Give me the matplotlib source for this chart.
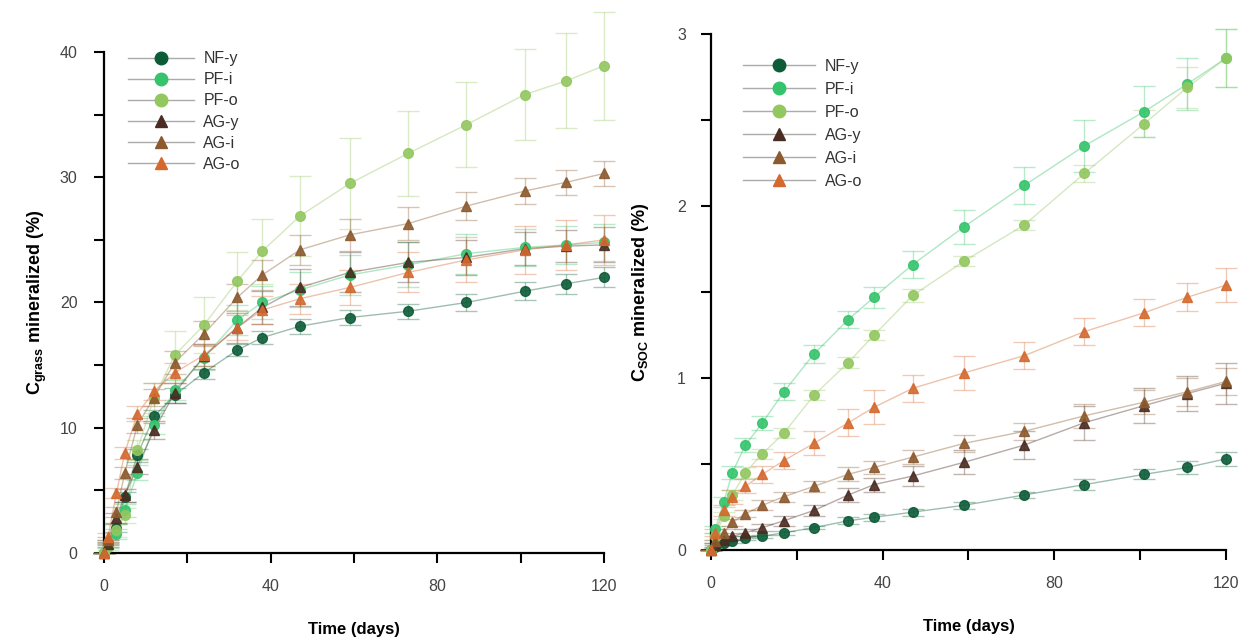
import matplotlib.pyplot as plt
from matplotlib.lines import Line2D

plt.rcParams['font.family'] = ['Liberation Sans', 'DejaVu Sans']
plt.rcParams['mathtext.fontset'] = 'custom'
plt.rcParams['mathtext.bf'] = 'Liberation Sans:bold'
plt.rcParams['mathtext.rm'] = 'Liberation Sans:bold'

dias = [0, 1, 3, 5, 8, 12, 17, 24, 32, 38, 47, 59, 73, 87, 101, 111, 120]
nomes = ['NF-y', 'PF-i', 'PF-o', 'AG-y', 'AG-i', 'AG-o']
cores = ['#0d5c38', '#35c46c', '#93c760', '#4b2c22', '#8c5a2e', '#d4692f']
marcas = ['o', 'o', 'o', '^', '^', '^']

# C grass mineralizado (%)
grass = {
    'NF-y': [0, 0.8, 2.0, 4.5, 7.8, 10.9, 12.6, 14.4, 16.2, 17.2, 18.1, 18.8, 19.3, 20.0, 20.9, 21.5, 22.0],
    'PF-i': [0, 0.6, 1.5, 3.4, 6.4, 10.2, 13.0, 15.6, 18.6, 20.0, 21.0, 22.2, 23.0, 23.9, 24.4, 24.6, 24.8],
    'PF-o': [0, 0.5, 1.8, 3.0, 8.2, 12.4, 15.8, 18.2, 21.7, 24.1, 26.9, 29.5, 31.9, 34.2, 36.6, 37.7, 38.9],
    'AG-y': [0, 0.7, 2.8, 4.6, 6.9, 9.8, 12.8, 15.7, 18.0, 19.6, 21.2, 22.4, 23.2, 23.6, 24.3, 24.5, 24.6],
    'AG-i': [0, 1.0, 3.3, 6.4, 10.2, 12.4, 15.2, 17.5, 20.4, 22.2, 24.2, 25.4, 26.3, 27.7, 28.9, 29.6, 30.3],
    'AG-o': [0, 1.3, 4.8, 8.0, 11.1, 12.9, 14.4, 15.8, 18.0, 19.4, 20.3, 21.2, 22.4, 23.4, 24.2, 24.6, 25.0],
}
grass_err = {
    'NF-y': [0, 0.2, 0.3, 0.4, 0.5, 0.5, 0.6, 0.5, 0.5, 0.5, 0.6, 0.6, 0.6, 0.7, 0.7, 0.8, 0.8],
    'PF-i': [0, 0.2, 0.4, 0.5, 0.6, 0.7, 0.8, 1.0, 1.2, 1.3, 1.4, 1.6, 1.8, 1.6, 1.5, 1.5, 1.5],
    'PF-o': [0, 0.3, 0.5, 0.6, 0.8, 1.2, 1.9, 2.2, 2.3, 2.6, 3.2, 3.6, 3.4, 3.4, 3.6, 3.8, 4.3],
    'AG-y': [0, 0.2, 0.4, 0.5, 0.6, 0.7, 0.8, 1.0, 1.2, 1.3, 1.5, 1.6, 1.6, 1.4, 1.3, 1.3, 1.4],
    'AG-i': [0, 0.3, 0.4, 0.5, 0.6, 0.7, 0.9, 1.0, 1.1, 1.2, 1.2, 1.3, 1.3, 1.1, 1.0, 1.0, 1.0],
    'AG-o': [0, 0.3, 0.4, 0.5, 0.6, 0.7, 0.8, 0.9, 1.0, 1.1, 1.2, 1.4, 1.6, 1.8, 1.9, 2.0, 2.0],
}

# C SOC mineralizado (%)
soc = {
    'NF-y': [0, 0.02, 0.04, 0.05, 0.07, 0.08, 0.10, 0.13, 0.17, 0.19, 0.22, 0.26, 0.32, 0.38, 0.44, 0.48, 0.53],
    'PF-i': [0, 0.12, 0.28, 0.45, 0.61, 0.74, 0.92, 1.14, 1.34, 1.47, 1.66, 1.88, 2.12, 2.35, 2.55, 2.71, 2.86],
    'PF-o': [0, 0.08, 0.20, 0.32, 0.45, 0.56, 0.68, 0.90, 1.09, 1.25, 1.48, 1.68, 1.89, 2.19, 2.48, 2.69, 2.86],
    'AG-y': [0, 0.03, 0.06, 0.08, 0.10, 0.13, 0.17, 0.23, 0.32, 0.38, 0.43, 0.51, 0.61, 0.74, 0.84, 0.91, 0.97],
    'AG-i': [0, 0.05, 0.10, 0.16, 0.21, 0.26, 0.31, 0.37, 0.44, 0.48, 0.54, 0.62, 0.69, 0.78, 0.86, 0.92, 0.98],
    'AG-o': [0, 0.10, 0.23, 0.31, 0.37, 0.44, 0.52, 0.62, 0.74, 0.83, 0.94, 1.03, 1.13, 1.27, 1.38, 1.47, 1.54],
}
soc_err = {
    'NF-y': [0, 0.01, 0.01, 0.01, 0.01, 0.01, 0.01, 0.01, 0.02, 0.02, 0.02, 0.02, 0.02, 0.03, 0.03, 0.04, 0.04],
    'PF-i': [0, 0.02, 0.03, 0.04, 0.04, 0.04, 0.05, 0.05, 0.05, 0.06, 0.08, 0.10, 0.11, 0.15, 0.15, 0.15, 0.17],
    'PF-o': [0, 0.02, 0.02, 0.03, 0.03, 0.03, 0.03, 0.03, 0.03, 0.03, 0.04, 0.03, 0.03, 0.05, 0.08, 0.12, 0.17],
    'AG-y': [0, 0.01, 0.02, 0.02, 0.02, 0.02, 0.03, 0.03, 0.04, 0.04, 0.06, 0.07, 0.08, 0.10, 0.10, 0.10, 0.12],
    'AG-i': [0, 0.01, 0.02, 0.02, 0.02, 0.03, 0.03, 0.03, 0.04, 0.04, 0.04, 0.05, 0.05, 0.07, 0.07, 0.08, 0.08],
    'AG-o': [0, 0.02, 0.03, 0.04, 0.04, 0.05, 0.05, 0.07, 0.08, 0.10, 0.08, 0.10, 0.08, 0.08, 0.08, 0.08, 0.10],
}


def painel(ax, dados, erros, ymax, yticks, ylabels, yminor, ylabel, ypad, ylabelpad,
           leg_anchor, leg_spacing, hlen):
    for nome, cor, m in zip(nomes, cores, marcas):
        ax.errorbar(dias, dados[nome], yerr=erros[nome], fmt='none', ecolor=cor,
                    alpha=0.35, elinewidth=1, capsize=8, capthick=1, clip_on=False, zorder=2)
        ax.plot(dias, dados[nome], color=cor, alpha=0.4, lw=1, zorder=3, clip_on=False)
        ax.plot(dias, dados[nome], ls='none', marker=m, color=cor, ms=7, alpha=0.9,
                zorder=4, clip_on=False)

    ax.set_xlim(0, 120)
    ax.set_ylim(0, ymax)
    ax.set_xticks([0, 40, 80, 120])
    ax.set_xticks([20, 60, 100], minor=True)
    ax.set_yticks(yticks)
    ax.set_yticklabels(ylabels)
    ax.set_yticks(yminor, minor=True)
    ax.spines['top'].set_visible(False)
    ax.spines['right'].set_visible(False)
    for s in ['left', 'bottom']:
        ax.spines[s].set_linewidth(1.6)
    ax.tick_params(which='both', direction='out', length=7, width=1.5,
                   labelsize=11.5, labelcolor='#444444')
    ax.tick_params(axis='x', which='both', pad=12)
    ax.tick_params(axis='y', which='both', pad=ypad)
    ax.set_xlabel('Time (days)', fontsize=12, fontweight='bold', labelpad=20)
    ax.set_ylabel(ylabel, fontsize=13, fontweight='bold', labelpad=ylabelpad)

    handles = [Line2D([], [], color='#aaaaaa', lw=1, marker=m, mfc=c, mec=c, ms=9)
               for c, m in zip(cores, marcas)]
    ax.legend(handles, nomes, loc='upper left', bbox_to_anchor=leg_anchor, frameon=False,
              handlelength=hlen, fontsize=11.5, labelspacing=leg_spacing, handletextpad=0.6,
              labelcolor='#333333')


fig = plt.figure(figsize=(12.51, 6.44), dpi=100)
ax1 = fig.add_axes([0.0831, 0.1413, 0.3997, 0.778])
ax2 = fig.add_axes([0.5683, 0.146, 0.4117, 0.801])

painel(ax1, grass, grass_err, 40, [0, 10, 20, 30, 40], ['0', '10', '20', '30', '40'],
       [5, 15, 25, 35], r'C$_{\mathbf{grass}}$ mineralized (%)', 12, 8,
       (0.02, 1.03), 0.38, 4.1)
painel(ax2, soc, soc_err, 3, [0, 1, 2, 3], ['0', '1', '2', '3'],
       [0.5, 1.5, 2.5], r'C$_{\mathbf{SOC}}$ mineralized (%)', 11, 19,
       (0.035, 0.98), 0.5, 4.5)

fig.savefig('out.png', dpi=100)
